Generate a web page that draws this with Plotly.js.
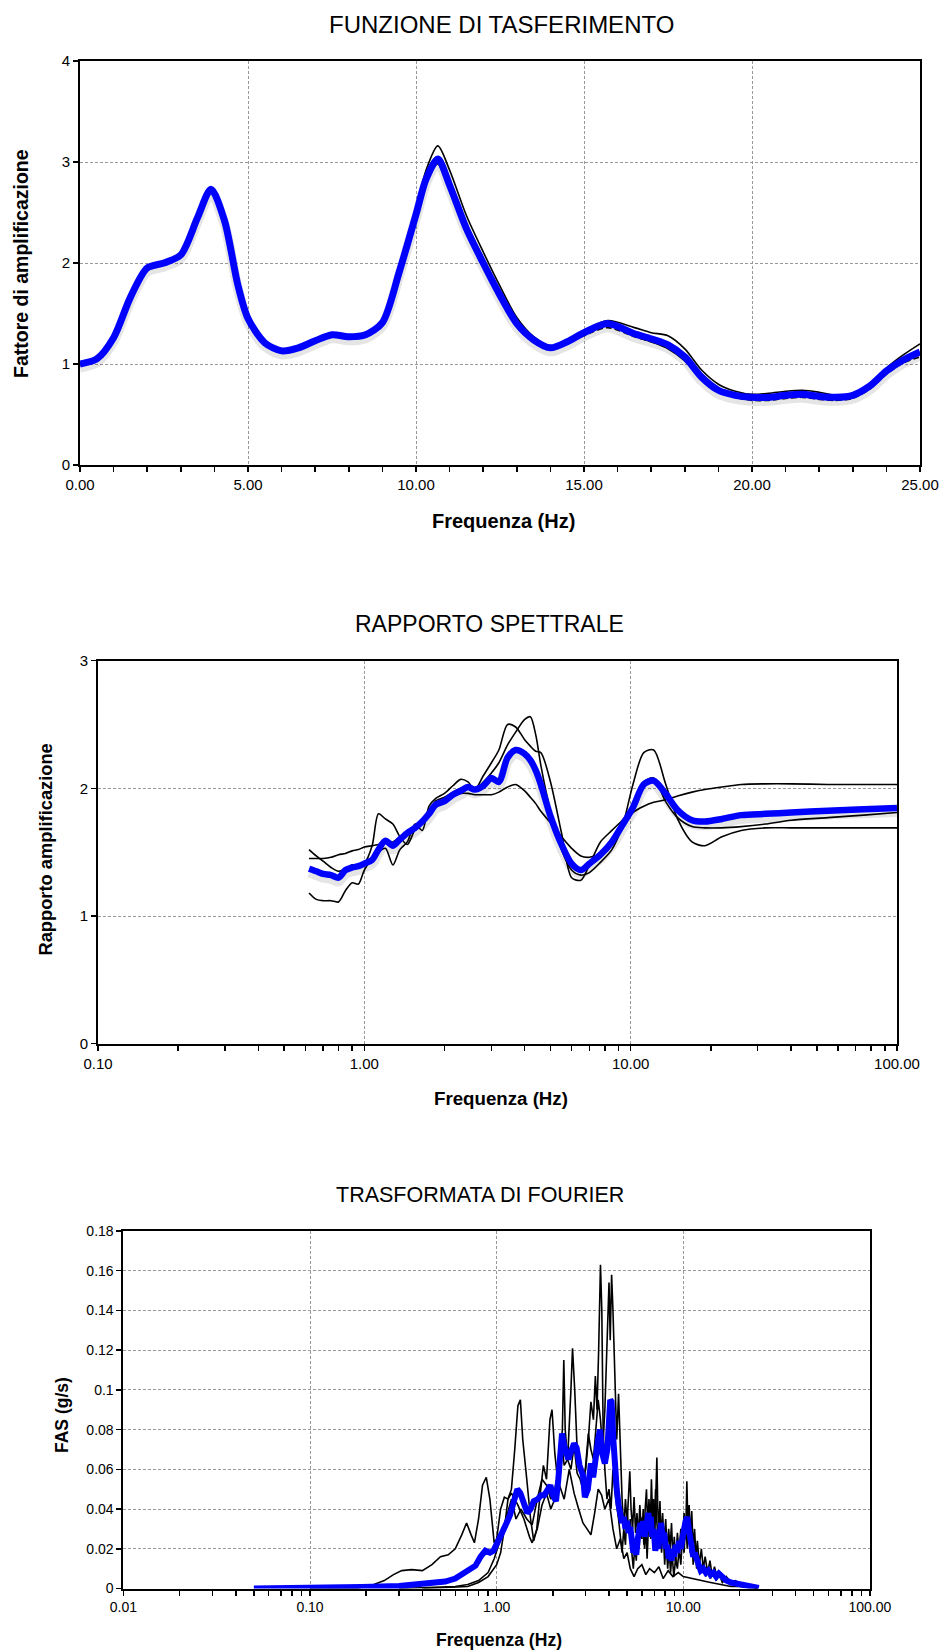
<!DOCTYPE html>
<html>
<head>
<meta charset="utf-8">
<script src="https://cdn.plot.ly/plotly-3.0.1.min.js"></script>
<style>
  html, body { margin: 0; padding: 0; background: #ffffff; }
  #chart { width: 944px; height: 1650px; }
</style>
</head>
<body>
<div id="chart"></div>
<script>
// ---------- Chart 1: FUNZIONE DI TASFERIMENTO ----------
const tfFreq = [0,0.5,1,1.5,2,2.5,3,3.5,3.9,4.3, 4.7,5,5.5,6,6.5,7,7.5,8,8.5,9, 9.5,10,10.3,10.65,11,11.5,12,12.5,13,13.5, 14,14.5,15,15.7,16.5,17,17.5,18,18.5,19, 19.5,20,20.5,21,21.5,22,22.5,23,23.5,24, 24.5,25];
const tfMean = [1.00,1.05,1.26,1.66,1.95,2.00,2.08,2.45,2.73,2.42, 1.78,1.45,1.21,1.13,1.16,1.23,1.29,1.27,1.29,1.41, 1.91,2.48,2.83,3.03,2.77,2.34,2.00,1.68,1.40,1.24, 1.16,1.22,1.31,1.40,1.30,1.25,1.19,1.07,0.87,0.74, 0.69,0.67,0.67,0.69,0.70,0.68,0.67,0.69,0.78,0.93, 1.04,1.12];
const tfRecA = [1.00,1.05,1.27,1.67,1.96,2.01,2.09,2.46,2.75,2.44, 1.80,1.46,1.22,1.14,1.17,1.24,1.30,1.28,1.30,1.43, 1.92,2.52,2.92,3.16,2.92,2.47,2.11,1.77,1.46,1.27, 1.17,1.23,1.33,1.43,1.36,1.31,1.28,1.15,0.94,0.80, 0.73,0.70,0.71,0.73,0.74,0.72,0.69,0.70,0.79,0.96, 1.09,1.20];
const tfRecB = [0.99,1.04,1.25,1.65,1.94,1.99,2.07,2.44,2.72,2.41, 1.77,1.44,1.20,1.11,1.14,1.21,1.27,1.25,1.27,1.40, 1.88,2.45,2.79,2.98,2.72,2.30,1.96,1.65,1.38,1.22, 1.15,1.20,1.29,1.38,1.28,1.22,1.15,1.03,0.85,0.72, 0.67,0.65,0.65,0.67,0.68,0.66,0.65,0.67,0.76,0.91, 1.02,1.10];
const tfRecC = [1.00,1.05,1.26,1.65,1.94,1.98,2.07,2.45,2.73,2.42, 1.78,1.45,1.20,1.12,1.15,1.22,1.27,1.26,1.28,1.41, 1.89,2.47,2.82,3.01,2.75,2.32,1.98,1.66,1.39,1.23, 1.15,1.20,1.28,1.36,1.27,1.22,1.16,1.04,0.85,0.72, 0.67,0.64,0.64,0.66,0.67,0.65,0.64,0.66,0.75,0.90, 1.01,1.07];

// ---------- Chart 2: RAPPORTO SPETTRALE ----------
const srFreq = [0.62,0.66,0.70,0.75,0.80,0.85,0.90,0.95,1.0,1.07, 1.13,1.2,1.28,1.36,1.45,1.55,1.65,1.75,1.85,2.0, 2.15,2.3,2.45,2.6,2.8,3.0,3.2,3.45,3.7,4.0, 4.2,4.4,4.6,5.0,5.5,6.0,6.5,7.0,7.7,8.5, 9.3,10.2,11.2,12.2,13.5,15,17,19,22,26, 32,40,55,75,100];
const srMean = [1.37,1.35,1.33,1.32,1.30,1.36,1.38,1.39,1.41,1.44, 1.52,1.59,1.55,1.60,1.65,1.69,1.74,1.80,1.87,1.90, 1.95,1.98,2.01,1.99,2.02,2.08,2.05,2.24,2.30,2.27, 2.22,2.14,2.03,1.78,1.56,1.41,1.36,1.41,1.48,1.58, 1.71,1.85,2.03,2.06,1.96,1.83,1.75,1.74,1.76,1.79, 1.80,1.81,1.825,1.835,1.845];
const srRecA = [1.45,1.45,1.45,1.46,1.48,1.49,1.51,1.52,1.54,1.55, 1.56,1.57,1.58,1.62,1.66,1.71,1.76,1.82,1.86,1.90, 1.94,1.96,1.96,1.95,1.95,1.95,1.97,2.01,2.03,1.98, 1.93,1.88,1.82,1.73,1.62,1.53,1.47,1.46,1.49,1.58, 1.70,1.81,1.86,1.89,1.91,1.94,1.97,1.99,2.01,2.03, 2.035,2.035,2.03,2.03,2.03];
const srRecB = [1.52,1.47,1.43,1.38,1.35,1.37,1.40,1.38,1.41,1.55, 1.80,1.76,1.72,1.62,1.56,1.68,1.76,1.80,1.90,1.93, 1.97,2.00,2.01,1.99,2.05,2.12,2.20,2.34,2.44,2.54, 2.56,2.42,2.18,1.82,1.52,1.36,1.32,1.34,1.42,1.52, 1.70,2.03,2.28,2.30,2.04,1.76,1.58,1.55,1.62,1.67, 1.69,1.69,1.69,1.69,1.69];
const srRecC = [1.18,1.13,1.12,1.12,1.11,1.20,1.26,1.25,1.36,1.45, 1.50,1.53,1.40,1.52,1.58,1.72,1.67,1.86,1.92,1.96, 2.02,2.07,2.05,1.99,2.10,2.20,2.30,2.50,2.48,2.38, 2.33,2.29,2.28,2.05,1.65,1.30,1.28,1.40,1.58,1.67, 1.75,1.85,2.05,2.08,1.90,1.77,1.70,1.69,1.69,1.70, 1.72,1.75,1.77,1.79,1.81];

// ---------- Chart 3: TRASFORMATA DI FOURIER  [frequency Hz, FAS g/s] ----------
const fasRecA = [[0.10,0],[0.18,0.0002],[0.22,0.002],[0.25,0.004],[0.28,0.007],[0.31,0.009],[0.35,0.0095],[0.40,0.009],[0.45,0.012],[0.50,0.016],[0.55,0.017],[0.60,0.020],[0.65,0.027],[0.69,0.033],[0.73,0.027],[0.76,0.023],[0.80,0.035],[0.84,0.052],[0.88,0.056],[0.92,0.045],[0.97,0.023],[1.00,0.025],[1.05,0.040],[1.10,0.046],[1.15,0.045],[1.20,0.050],[1.25,0.070],[1.30,0.092],[1.34,0.095],[1.38,0.075],[1.45,0.055],[1.52,0.035],[1.58,0.024],[1.64,0.030],[1.70,0.045],[1.78,0.062],[1.85,0.055],[1.93,0.085],[1.98,0.090],[2.05,0.068],[2.12,0.055],[2.20,0.050],[2.30,0.045],[2.45,0.060],[2.60,0.048],[2.75,0.040],[2.90,0.033],[3.05,0.030],[3.20,0.027],[3.35,0.038],[3.50,0.050],[3.65,0.047],[3.80,0.040],[4.00,0.045],[4.20,0.030],[4.40,0.020],[4.60,0.025],[4.80,0.015],[5.00,0.018],[5.20,0.010],[5.45,0.006],[5.70,0.010],[6.00,0.012],[6.30,0.007],[6.60,0.010],[7.00,0.008],[7.40,0.011],[7.80,0.005],[8.30,0.009],[8.80,0.006],[9.40,0.008],[10.0,0.006],[11.0,0.005],[12.5,0.004],[14.0,0.003],[16.0,0.002],[18.0,0.001],[20.0,0.001],[25.0,0]];
const fasRecB = [[0.30,0],[0.50,0.0005],[0.60,0.001],[0.70,0.002],[0.80,0.004],[0.90,0.008],[0.97,0.015],[1.05,0.025],[1.10,0.032],[1.15,0.040],[1.20,0.045],[1.27,0.035],[1.35,0.040],[1.45,0.035],[1.55,0.032],[1.65,0.045],[1.75,0.055],[1.85,0.052],[1.95,0.045],[2.05,0.050],[2.15,0.060],[2.25,0.070],[2.30,0.062],[2.40,0.065],[2.50,0.100],[2.55,0.121],[2.62,0.100],[2.70,0.070],[2.80,0.060],[2.90,0.055],[3.00,0.060],[3.10,0.075],[3.20,0.094],[3.30,0.085],[3.38,0.107],[3.45,0.090],[3.52,0.120],[3.60,0.163],[3.66,0.140],[3.72,0.080],[3.80,0.060],[3.90,0.045],[4.00,0.050],[4.10,0.040],[4.20,0.060],[4.35,0.045],[4.50,0.035],[4.60,0.025],[4.70,0.018],[4.80,0.030],[4.90,0.022],[5.00,0.040],[5.10,0.028],[5.20,0.035],[5.30,0.018],[5.40,0.010],[5.50,0.022],[5.60,0.014],[5.70,0.030],[5.80,0.020],[5.90,0.036],[6.00,0.025],[6.10,0.040],[6.20,0.020],[6.30,0.032],[6.40,0.015],[6.55,0.038],[6.70,0.025],[6.85,0.045],[7.00,0.028],[7.10,0.050],[7.20,0.035],[7.35,0.022],[7.50,0.035],[7.65,0.018],[7.80,0.030],[7.95,0.012],[8.10,0.024],[8.25,0.010],[8.40,0.020],[8.55,0.008],[8.70,0.018],[8.90,0.006],[9.10,0.015],[9.30,0.010],[9.50,0.020],[9.70,0.012],[9.90,0.026],[10.1,0.018],[10.3,0.034],[10.5,0.020],[10.7,0.036],[10.9,0.018],[11.1,0.028],[11.3,0.012],[11.5,0.022],[11.8,0.010],[12.1,0.016],[12.4,0.008],[12.8,0.013],[13.2,0.006],[13.6,0.011],[14.0,0.005],[14.5,0.009],[15.0,0.004],[15.6,0.007],[16.2,0.003],[17.0,0.005],[18.0,0.002],[19.5,0.003],[21.0,0.001],[23.0,0.001],[25.0,0]];
const fasRecC = [[0.40,0],[0.60,0.0005],[0.70,0.001],[0.80,0.003],[0.90,0.006],[1.00,0.012],[1.05,0.018],[1.10,0.030],[1.15,0.045],[1.20,0.048],[1.30,0.042],[1.40,0.035],[1.50,0.026],[1.55,0.023],[1.65,0.030],[1.75,0.042],[1.85,0.048],[1.95,0.040],[2.05,0.045],[2.15,0.060],[2.25,0.080],[2.29,0.115],[2.33,0.080],[2.40,0.065],[2.50,0.060],[2.60,0.072],[2.70,0.058],[2.80,0.055],[2.90,0.050],[3.00,0.062],[3.10,0.078],[3.20,0.070],[3.30,0.065],[3.40,0.080],[3.50,0.095],[3.60,0.085],[3.70,0.070],[3.80,0.090],[3.90,0.120],[4.00,0.154],[4.06,0.125],[4.13,0.158],[4.20,0.140],[4.30,0.100],[4.40,0.075],[4.50,0.098],[4.60,0.070],[4.70,0.045],[4.80,0.030],[4.90,0.045],[5.00,0.033],[5.10,0.048],[5.17,0.059],[5.25,0.040],[5.35,0.030],[5.45,0.046],[5.55,0.028],[5.65,0.038],[5.75,0.025],[5.85,0.042],[5.95,0.030],[6.05,0.036],[6.15,0.022],[6.25,0.040],[6.35,0.050],[6.45,0.030],[6.55,0.045],[6.65,0.028],[6.75,0.055],[6.85,0.035],[6.95,0.045],[7.05,0.030],[7.15,0.052],[7.22,0.066],[7.30,0.040],[7.40,0.030],[7.50,0.044],[7.60,0.025],[7.75,0.038],[7.90,0.022],[8.05,0.035],[8.20,0.018],[8.35,0.030],[8.50,0.020],[8.65,0.033],[8.80,0.015],[8.95,0.026],[9.10,0.012],[9.30,0.028],[9.50,0.018],[9.70,0.030],[9.90,0.020],[10.1,0.038],[10.3,0.025],[10.45,0.054],[10.6,0.030],[10.75,0.042],[10.9,0.025],[11.1,0.039],[11.3,0.020],[11.5,0.030],[11.7,0.015],[11.9,0.024],[12.2,0.012],[12.5,0.020],[12.8,0.010],[13.1,0.016],[13.5,0.008],[13.9,0.014],[14.3,0.006],[14.7,0.011],[15.2,0.005],[15.7,0.008],[16.3,0.004],[17.0,0.006],[18.0,0.003],[19.0,0.004],[20.5,0.002],[22.0,0.002],[23.5,0.001],[25.0,0]];
const fasMean = [[0.05,0],[0.10,0.0002],[0.19,0.0008],[0.30,0.0013],[0.39,0.002],[0.45,0.0025],[0.53,0.0035],[0.60,0.005],[0.66,0.0075],[0.72,0.009],[0.77,0.0115],[0.82,0.016],[0.87,0.019],[0.92,0.018],[0.96,0.019],[1.02,0.024],[1.07,0.0275],[1.13,0.033],[1.18,0.037],[1.24,0.045],[1.29,0.050],[1.34,0.048],[1.40,0.043],[1.46,0.038],[1.52,0.040],[1.58,0.044],[1.66,0.045],[1.73,0.047],[1.80,0.047],[1.87,0.050],[1.94,0.052],[2.00,0.047],[2.08,0.044],[2.14,0.055],[2.20,0.070],[2.24,0.078],[2.30,0.072],[2.37,0.066],[2.42,0.065],[2.50,0.069],[2.60,0.073],[2.68,0.071],[2.78,0.062],[2.90,0.057],[2.97,0.046],[3.08,0.050],[3.20,0.063],[3.29,0.056],[3.40,0.068],[3.50,0.075],[3.58,0.080],[3.68,0.068],[3.80,0.063],[3.92,0.070],[4.06,0.095],[4.13,0.094],[4.22,0.075],[4.30,0.060],[4.40,0.050],[4.50,0.042],[4.60,0.038],[4.70,0.033],[4.80,0.036],[4.90,0.030],[5.00,0.034],[5.10,0.028],[5.20,0.031],[5.30,0.022],[5.40,0.018],[5.50,0.020],[5.60,0.017],[5.70,0.025],[5.80,0.028],[5.90,0.033],[6.00,0.028],[6.10,0.034],[6.20,0.026],[6.30,0.030],[6.40,0.036],[6.50,0.038],[6.60,0.032],[6.70,0.036],[6.80,0.026],[6.95,0.030],[7.08,0.019],[7.20,0.024],[7.35,0.020],[7.50,0.030],[7.60,0.033],[7.75,0.026],[7.90,0.028],[8.05,0.020],[8.20,0.022],[8.35,0.015],[8.50,0.018],[8.65,0.014],[8.80,0.020],[8.95,0.016],[9.10,0.022],[9.30,0.018],[9.50,0.024],[9.70,0.020],[9.90,0.028],[10.1,0.030],[10.3,0.034],[10.5,0.036],[10.7,0.030],[10.9,0.025],[11.1,0.020],[11.3,0.016],[11.5,0.018],[11.8,0.014],[12.1,0.011],[12.4,0.009],[12.8,0.010],[13.2,0.008],[13.6,0.009],[14.0,0.007],[14.5,0.008],[15.0,0.006],[15.5,0.0075],[16.0,0.006],[17.0,0.004],[18.0,0.003],[19.3,0.0025],[21.0,0.0015],[23.0,0.0008],[25.4,0.0003]];

const fasTickVals = [0,0.02,0.04,0.06,0.08,0.1,0.12,0.14,0.16,0.18];
const fasTickText = ['0','0.02','0.04','0.06','0.08','0.1','0.12','0.14','0.16','0.18'];

// ---------- helpers ----------
const FONT = 'Liberation Sans, Arial, Helvetica, sans-serif';
const W = 944, H = 1650;
const BLUE = '#0000ff';
const px = v => v / W;
const py = v => 1 - v / H;

function blackLine(x, y, xa, ya, dash, shape) {
  return {x: x, y: y, xaxis: xa, yaxis: ya, type: 'scatter', mode: 'lines',
    line: {color: '#000000', width: 1.6, dash: dash || 'solid', shape: shape || 'linear', smoothing: 0.8},
    hoverinfo: 'skip', showlegend: false};
}
function blueLine(x, y, xa, ya, shape, w) {
  return {x: x, y: y, xaxis: xa, yaxis: ya, type: 'scatter', mode: 'lines',
    line: {color: BLUE, width: w || 6.5, shape: shape || 'linear', smoothing: 0.8},
    hoverinfo: 'skip', showlegend: false};
}
function shadowLine(x, y, xa, ya, off, shape) {
  return {x: x, y: y.map(v => v - off), xaxis: xa, yaxis: ya, type: 'scatter', mode: 'lines',
    line: {color: 'rgba(0,0,0,0.10)', width: 10, shape: shape || 'linear', smoothing: 0.8},
    hoverinfo: 'skip', showlegend: false};
}
const col = (arr, i) => arr.map(p => p[i]);

const traces = [
  // chart 1
  shadowLine(tfFreq, tfMean, 'x', 'y', 0.035, 'spline'),
  blackLine(tfFreq, tfRecA, 'x', 'y', 'solid', 'spline'),
  blackLine(tfFreq, tfRecB, 'x', 'y', 'solid', 'spline'),
  blackLine(tfFreq, tfRecC, 'x', 'y', '6px,3px', 'spline'),
  blueLine(tfFreq, tfMean, 'x', 'y', 'spline', 7),
  // chart 2
  shadowLine(srFreq, srMean, 'x2', 'y2', 0.03, 'spline'),
  blackLine(srFreq, srRecA, 'x2', 'y2', 'solid', 'spline'),
  blackLine(srFreq, srRecB, 'x2', 'y2', 'solid', 'spline'),
  blackLine(srFreq, srRecC, 'x2', 'y2', 'solid', 'spline'),
  blueLine(srFreq, srMean, 'x2', 'y2', 'spline', 6.5),
  // chart 3
  blackLine(col(fasRecA,0), col(fasRecA,1), 'x3', 'y3'),
  blackLine(col(fasRecB,0), col(fasRecB,1), 'x3', 'y3'),
  blackLine(col(fasRecC,0), col(fasRecC,1), 'x3', 'y3'),
  blueLine(col(fasMean,0), col(fasMean,1), 'x3', 'y3', 'linear', 6)
];

const axisBase = {
  showline: true, linecolor: '#000000', linewidth: 2, mirror: true,
  ticks: 'outside', ticklen: 5, tickwidth: 1.5, tickcolor: '#000000',
  showgrid: true, gridcolor: '#9a9a9a', gridwidth: 1, griddash: '3px,2px',
  zeroline: false, fixedrange: true,
  tickfont: {family: FONT, size: 15, color: '#000000'}
};

const layout = {
  width: W, height: H,
  margin: {l: 0, r: 0, t: 0, b: 0},
  paper_bgcolor: '#ffffff', plot_bgcolor: '#ffffff',
  showlegend: false,
  font: {family: FONT, color: '#000000'},
  xaxis: Object.assign({}, axisBase, {
    domain: [px(80), px(920)], anchor: 'y', range: [0, 25],
    tickmode: 'linear', tick0: 0, dtick: 5, tickformat: '.2f',
    minor: {ticks: 'outside', ticklen: 5, tickwidth: 1.5, tickcolor: '#000000', dtick: 1, showgrid: false}
  }),
  yaxis: Object.assign({}, axisBase, {
    domain: [py(465), py(61)], anchor: 'x', range: [0, 4],
    tickmode: 'linear', tick0: 0, dtick: 1
  }),
  xaxis2: Object.assign({}, axisBase, {
    domain: [px(98), px(897)], anchor: 'y2', type: 'log', range: [-1, 2],
    tickmode: 'linear', tick0: 0, dtick: 1, tickformat: '.2f',
    minor: {ticks: 'outside', ticklen: 5, tickwidth: 1.5, tickcolor: '#000000', dtick: 'D1', showgrid: false}
  }),
  yaxis2: Object.assign({}, axisBase, {
    domain: [py(1043.7), py(660.6)], anchor: 'x2', range: [0, 3],
    tickmode: 'linear', tick0: 0, dtick: 1
  }),
  xaxis3: Object.assign({}, axisBase, {
    domain: [px(123.4), px(869.9)], anchor: 'y3', type: 'log', range: [-2, 2],
    tickmode: 'linear', tick0: 0, dtick: 1, tickformat: '.2f',
    tickfont: {family: FONT, size: 14, color: '#000000'},
    minor: {ticks: 'outside', ticklen: 5, tickwidth: 1.5, tickcolor: '#000000', dtick: 'D1', showgrid: false}
  }),
  yaxis3: Object.assign({}, axisBase, {
    domain: [py(1588.5), py(1231)], anchor: 'x3', range: [0, 0.18],
    tickmode: 'array', tickvals: fasTickVals, ticktext: fasTickText,
    tickfont: {family: FONT, size: 14, color: '#000000'}
  }),
  annotations: [
    {text: 'FUNZIONE DI TASFERIMENTO', x: px(501.5), y: py(24.5), size: 24, bold: false},
    {text: 'RAPPORTO SPETTRALE', x: px(489.5), y: py(623.6), size: 23, bold: false},
    {text: 'TRASFORMATA DI FOURIER', x: px(480), y: py(1195), size: 21.5, bold: false},
    {text: 'Frequenza (Hz)', x: px(503.7), y: py(521), size: 20, bold: true},
    {text: 'Frequenza (Hz)', x: px(501), y: py(1098), size: 18.7, bold: true},
    {text: 'Frequenza (Hz)', x: px(499), y: py(1640), size: 17.6, bold: true},
    {text: 'Fattore di amplificazione', x: px(21.6), y: py(263.4), size: 19.5, bold: true, rot: -90},
    {text: 'Rapporto amplificazione', x: px(44.5), y: py(850), size: 18.3, bold: true, rot: -90},
    {text: 'FAS (g/s)', x: px(62), y: py(1415), size: 17.5, bold: true, rot: -90}
  ].map(a => ({
    text: a.text, x: a.x, y: a.y, xref: 'paper', yref: 'paper',
    xanchor: 'center', yanchor: 'middle', showarrow: false,
    textangle: a.rot || 0,
    font: {family: FONT, size: a.size, color: '#000000', weight: a.bold ? 'bold' : 'normal'}
  }))
};

Plotly.newPlot('chart', traces, layout, {staticPlot: true, displayModeBar: false});
</script>
</body>
</html>
